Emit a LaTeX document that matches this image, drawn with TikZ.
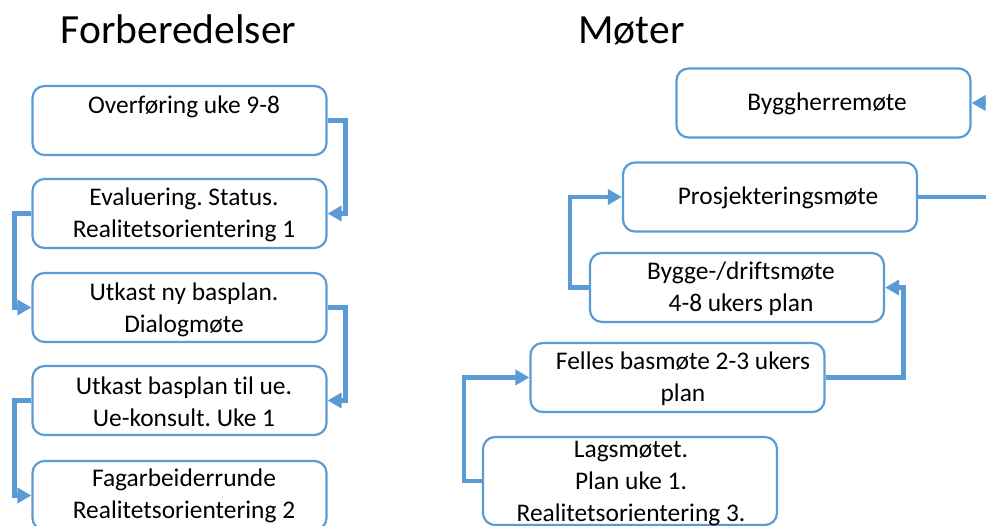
\documentclass[tikz,border=0pt]{standalone}
\usepackage{fontspec}
\setmainfont{Carlito}[Ligatures=NoCommon]
\frenchspacing
\usetikzlibrary{arrows.meta}
\definecolor{flowblue}{RGB}{91,155,213}
\tikzset{
  box/.style={draw=flowblue, line width=2.2pt, rounded corners=12pt,
    minimum width=294pt, minimum height=69pt, inner sep=0pt, fill=white},
  txt/.style={align=center, inner sep=0pt, font=\fontsize{25.4}{32}\selectfont},
  heading/.style={anchor=base, inner sep=0pt, font=\fontsize{41.5}{48}\selectfont},
  conn/.style={draw=flowblue, line width=4.5pt,
    -{Triangle[length=14pt,width=15pt]}}
}
\begin{document}
\begin{tikzpicture}[x=1pt, y=-1pt]
\useasboundingbox (0,0) rectangle (986,526);

% headings
\node[heading] (hprep) at (178.5,44) {Forberedelser};
\node[heading] (hmeet) at (631.5,44) {Møter};

% preparation boxes
\node[box] (b1) at (179.5,120.5) {};
\node[box] (b2) at (179.5,213.5) {};
\node[box] (b3) at (179.5,307.5) {};
\node[box] (b4) at (179.5,400.5) {};
\node[box] (b5) at (179.5,495.5) {};
\node[txt] (t1) at (184,107) {Overføring uke 9-8};
\node[txt] (t2) at (184,215) {Evaluering. Status.\\Realitetsorientering 1};
\node[txt] (t3) at (184,310) {Utkast ny basplan.\\Dialogmøte};
\node[txt] (t4) at (184,402) {Utkast basplan til ue.\\Ue-konsult. Uke 1};
\node[txt] (t5) at (184,496) {Fagarbeiderrunde\\Realitetsorientering 2};

% meeting boxes
\node[box] (r1) at (823.5,103) {};
\node[box] (r2) at (770,197) {};
\node[box] (r3) at (737,287.5) {};
\node[box] (r4) at (677.5,377.5) {};
\node[box, minimum height=88pt] (r5) at (630,481) {};
\node[txt] (u1) at (827,104) {Byggherremøte};
\node[txt] (u2) at (778,198) {Prosjekteringsmøte};
\node[txt] (u3) at (741,289) {Bygge-/driftsmøte\\4-8 ukers plan};
\node[txt] (u4) at (683,379) {Felles basmøte 2-3 ukers\\plan};
\node[txt] (u5) at (631,484) {Lagsmøtet.\\Plan uke 1.\\Realitetsorientering 3.};

% preparation flow
\draw[conn] (b1.east) -- ++(18,0) |- (b2.east);
\draw[conn] (b2.west) -- ++(-17,0) |- (b3.west);
\draw[conn] (b3.east) -- ++(18,0) |- (b4.east);
\draw[conn] (b4.west) -- ++(-17,0) |- (b5.west);

% meeting flow
\draw[conn] (r5.west) -- ++(-18,0) |- (r4.west);
\draw[conn] (r4.east) -- ++(78,0) |- (r3.east);
\draw[conn] (r3.west) -- ++(-19,0) |- (r2.west);
\draw[conn] (r2.east) -- ++(76,0) |- (r1.east);
\end{tikzpicture}
\end{document}
